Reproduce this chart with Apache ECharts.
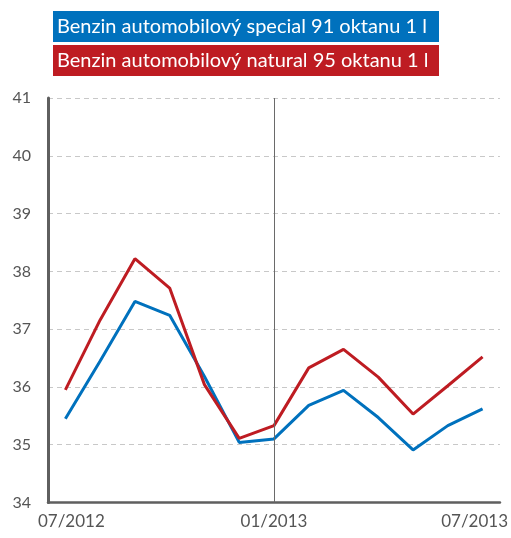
<!DOCTYPE html>
<html>
<head>
<meta charset="utf-8">
<script src="https://cdn.jsdelivr.net/npm/echarts@6/dist/echarts.min.js"></script>
<style>html,body{margin:0;padding:0;background:#fff}#c{width:511px;height:538px}</style>
</head>
<body>
<div id="c"></div>
<script>
const categories = ['07/2012','08/2012','09/2012','10/2012','11/2012','12/2012','01/2013','02/2013','03/2013','04/2013','05/2013','06/2013','07/2013'];
const seriesNames = ['Benzin automobilový special 91 oktanu 1 l', 'Benzin automobilový natural 95 oktanu 1 l'];
const special91 = [35.45, 36.45, 37.48, 37.24, 36.18, 35.04, 35.10, 35.68, 35.94, 35.47, 34.91, 35.33, 35.62];
const natural95 = [35.95, 37.16, 38.22, 37.71, 36.04, 35.11, 35.33, 36.33, 36.65, 36.17, 35.53, 36.02, 36.52];
const yTicks = [34, 35, 36, 37, 38, 39, 40, 41];
const markCategory = '01/2013';
const colors = ['#0071BD', '#BE1C22'];
const FONT = 'Lato';

const lastIdx = categories.length - 1;
const catData = categories.map((c, i) => {
  if (i === 0) return {value: c, textStyle: {padding: [0, 0, 0, 12]}};
  if (i === lastIdx) return {value: c, textStyle: {padding: [0, 16, 0, 0]}};
  return c;
});

const chart = echarts.init(document.getElementById('c'), null, {renderer: 'canvas'});
chart.setOption({
  animation: false,
  textStyle: {fontFamily: FONT},
  color: colors,
  legend: {
    orient: 'vertical', left: 48, top: 11, itemGap: 3, padding: 0,
    itemWidth: 0, itemHeight: 0, icon: 'rect', selectedMode: false,
    data: seriesNames.map((n, i) => ({
      name: n,
      textStyle: {
        backgroundColor: colors[i], color: '#fff', fontSize: 20, fontFamily: FONT,
        width: 378, height: 31, lineHeight: 31, padding: [0, 4, 0, 4]
      }
    }))
  },
  grid: {left: 48, right: 11, top: 98, bottom: 35.5, containLabel: false},
  xAxis: {
    type: 'category', data: catData, boundaryGap: true,
    axisLine: {lineStyle: {color: '#5f5f5f', width: 2.5}},
    axisTick: {show: false},
    axisLabel: {
      interval: 5, color: '#555', fontSize: 17, margin: 11,
      showMaxLabel: true
    },
    splitLine: {show: false}
  },
  yAxis: {
    type: 'value', min: yTicks[0], max: yTicks[yTicks.length - 1], interval: 1,
    axisLine: {show: true, lineStyle: {color: '#5f5f5f', width: 3}},
    axisTick: {show: false},
    axisLabel: {color: '#555', fontSize: 16, margin: 17},
    splitLine: {lineStyle: {color: '#c8c8c8', type: [5, 4], width: 1}}
  },
  series: [
    {
      name: seriesNames[0], type: 'line', data: special91, symbol: 'none',
      lineStyle: {width: 3, color: colors[0]},
      markLine: {
        silent: true, symbol: ['none', 'none'], label: {show: false},
        lineStyle: {color: '#6a6a6a', width: 1, type: 'solid'},
        data: [{xAxis: categories.indexOf(markCategory)}]
      }
    },
    {
      name: seriesNames[1], type: 'line', data: natural95, symbol: 'none',
      lineStyle: {width: 3, color: colors[1]}
    }
  ]
});
</script>
</body>
</html>
